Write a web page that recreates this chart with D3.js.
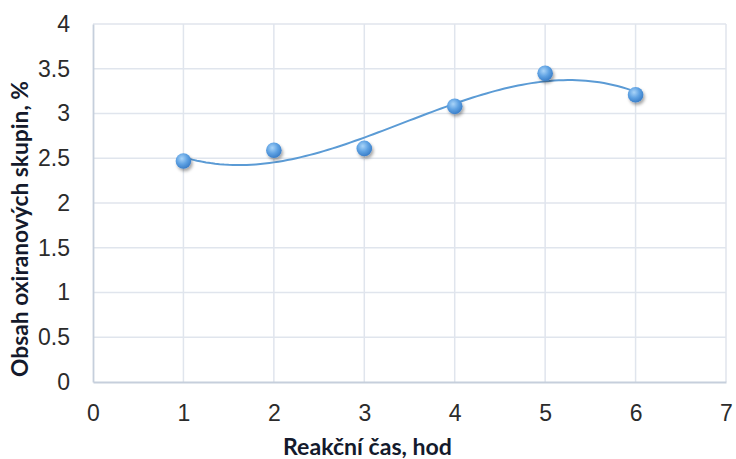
<!DOCTYPE html>
<html>
<head>
<meta charset="utf-8">
<script src="https://cdn.jsdelivr.net/npm/d3@7"></script>
<style>
  html, body { margin: 0; padding: 0; background: #fff; }
  svg { display: block; }
</style>
</head>
<body>
<svg id="chart" width="736" height="459"></svg>
<script>
// Reaction time (h) and oxirane group content (%)
const hours = [1, 2, 3, 4, 5, 6];
const oxirane = [2.47, 2.59, 2.61, 3.08, 3.45, 3.21];
const xTicks = [0, 1, 2, 3, 4, 5, 6, 7];
const yTicks = [0, 0.5, 1, 1.5, 2, 2.5, 3, 3.5, 4];
const xTitle = "Reakční čas, hod";
const yTitle = "Obsah oxiranových skupin, %";

const svg = d3.select("#chart");
const margin = { left: 93, right: 10, top: 24, bottom: 77 };
const W = 736, H = 459;

const x = d3.scaleLinear().domain([0, 7]).range([margin.left, W - margin.right]);
const y = d3.scaleLinear().domain([0, 4]).range([H - margin.bottom, margin.top]);

const defs = svg.append("defs");
const grad = defs.append("radialGradient").attr("id", "ball")
  .attr("cx", "40%").attr("cy", "35%").attr("r", "65%");
grad.append("stop").attr("offset", "0%").attr("stop-color", "#a9d4f8");
grad.append("stop").attr("offset", "55%").attr("stop-color", "#5fa2e3");
grad.append("stop").attr("offset", "100%").attr("stop-color", "#3b7fc9");
const shadow = defs.append("filter").attr("id", "shadow")
  .attr("x", "-50%").attr("y", "-50%").attr("width", "200%").attr("height", "200%");
shadow.append("feDropShadow").attr("dx", 1.5).attr("dy", 2.5)
  .attr("stdDeviation", 1.8).attr("flood-color", "#000").attr("flood-opacity", 0.35);

// Gridlines
const grid = svg.append("g");
grid.selectAll("line.h").data(yTicks.filter(d => d > 0)).join("line")
  .attr("x1", x(0)).attr("x2", x(7))
  .attr("y1", d => y(d)).attr("y2", d => y(d))
  .attr("stroke", "#e0e5ed").attr("stroke-width", 1.5);
grid.selectAll("line.v").data(xTicks.filter(d => d > 0)).join("line")
  .attr("y1", y(0)).attr("y2", y(4))
  .attr("x1", d => x(d)).attr("x2", d => x(d))
  .attr("stroke", "#e0e5ed").attr("stroke-width", 1.5);

// Axes
const xAxis = svg.append("g").attr("transform", `translate(0,${y(0)})`)
  .call(d3.axisBottom(x).tickValues(xTicks).tickSize(0).tickPadding(22).tickFormat(d3.format("d")));
const yAxis = svg.append("g").attr("transform", `translate(${x(0)},0)`)
  .call(d3.axisLeft(y).tickValues(yTicks).tickSize(0).tickPadding(23).tickFormat(d => String(d)));
[xAxis, yAxis].forEach(g => {
  g.select(".domain").attr("stroke", "#c6cfdc").attr("stroke-width", 1.8);
  g.selectAll("text").attr("font-family", "Liberation Sans, Arial, sans-serif")
    .attr("font-size", 23).attr("fill", "#2b2b2b");
});
xAxis.selectAll("text").attr("dy", "0.72em");

// Cubic polynomial trendline (least squares)
function polyFit(xs, ys, order) {
  const n = order + 1;
  const A = Array.from({ length: n }, () => new Array(n + 1).fill(0));
  for (let r = 0; r < n; r++) {
    for (let c = 0; c < n; c++) A[r][c] = d3.sum(xs, v => Math.pow(v, r + c));
    A[r][n] = d3.sum(xs, (v, i) => ys[i] * Math.pow(v, r));
  }
  for (let i = 0; i < n; i++) {
    let p = i;
    for (let k = i + 1; k < n; k++) if (Math.abs(A[k][i]) > Math.abs(A[p][i])) p = k;
    [A[i], A[p]] = [A[p], A[i]];
    for (let k = i + 1; k < n; k++) {
      const f = A[k][i] / A[i][i];
      for (let j = i; j <= n; j++) A[k][j] -= f * A[i][j];
    }
  }
  const coef = new Array(n).fill(0);
  for (let i = n - 1; i >= 0; i--) {
    let s = A[i][n];
    for (let j = i + 1; j < n; j++) s -= A[i][j] * coef[j];
    coef[i] = s / A[i][i];
  }
  return v => coef.reduce((acc, c, i) => acc + c * Math.pow(v, i), 0);
}
const trend = polyFit(hours, oxirane, 3);
const trendPts = d3.range(0, 101).map(i => {
  const t = hours[0] + (hours[hours.length - 1] - hours[0]) * i / 100;
  return [t, trend(t)];
});
svg.append("path").datum(trendPts)
  .attr("fill", "none").attr("stroke", "#5b9bd5").attr("stroke-width", 2)
  .attr("d", d3.line().x(d => x(d[0])).y(d => y(d[1])));

// Markers
svg.append("g").selectAll("circle").data(hours).join("circle")
  .attr("cx", d => x(d)).attr("cy", (d, i) => y(oxirane[i]))
  .attr("r", 7.8).attr("fill", "url(#ball)").attr("filter", "url(#shadow)");

// Axis titles, sized so each spans its intended length
function fitText(sel, span) {
  const base = 20;
  sel.attr("font-size", base);
  const len = sel.node().getComputedTextLength();
  sel.attr("font-size", base * span / len);
}
const xt = svg.append("text").text(xTitle)
  .attr("x", 367.5).attr("y", 455)
  .attr("text-anchor", "middle")
  .attr("font-family", "Lato, 'Open Sans', sans-serif").attr("font-weight", "bold")
  .attr("fill", "#141a2c");
fitText(xt, 169);
const yt = svg.append("text").text(yTitle)
  .attr("transform", "translate(28,229) rotate(-90)")
  .attr("text-anchor", "middle")
  .attr("font-family", "Lato, 'Open Sans', sans-serif").attr("font-weight", "bold")
  .attr("fill", "#141a2c");
fitText(yt, 296);
</script>
</body>
</html>
